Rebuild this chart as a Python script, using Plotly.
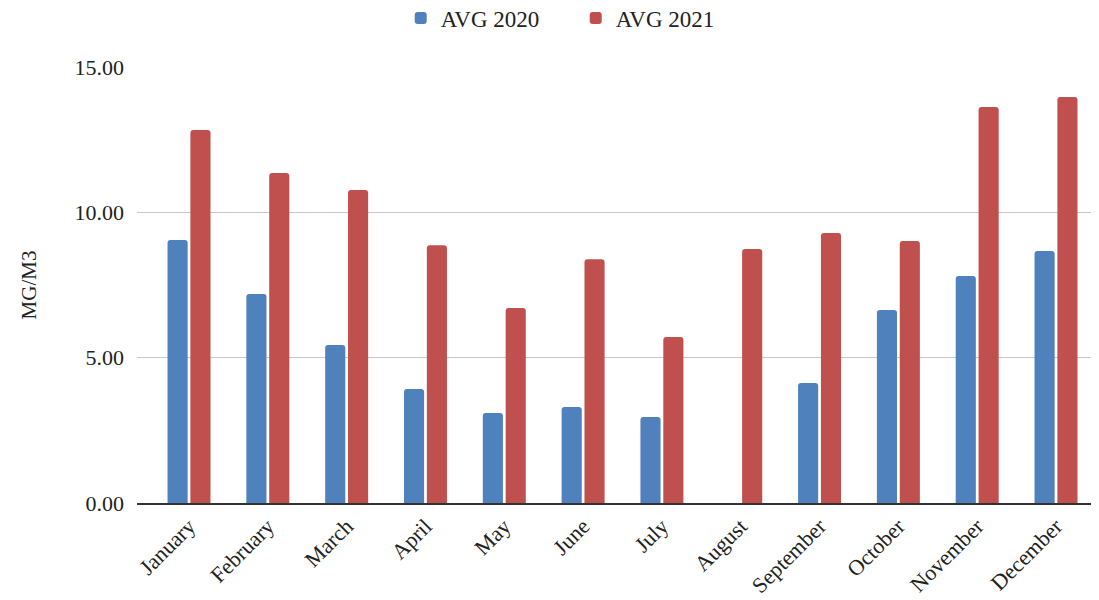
import plotly.graph_objects as go

months = ["January", "February", "March", "April", "May", "June",
          "July", "August", "September", "October", "November", "December"]
avg_2020 = [9.05, 7.19, 5.44, 3.92, 3.10, 3.30, 2.96, None, 4.13, 6.64, 7.81, 8.67]
avg_2021 = [12.83, 11.35, 10.77, 8.87, 6.71, 8.39, 5.71, 8.74, 9.29, 9.01, 13.62, 13.97]
y_ticks = [0, 5, 10, 15]
y_tick_labels = ["0.00", "5.00", "10.00", "15.00"]

FONT = "Liberation Serif, Times New Roman, serif"

fig = go.Figure()
fig.add_trace(go.Bar(x=list(range(len(months))), y=avg_2020, name="AVG 2020",
                     marker=dict(color="#4F81BD", line=dict(width=0))))
fig.add_trace(go.Bar(x=list(range(len(months))), y=avg_2021, name="AVG 2021",
                     marker=dict(color="#C0504D", line=dict(width=0))))

fig.update_layout(
    width=1099, height=600,
    margin=dict(l=129, r=10, t=59, b=105, autoexpand=False),
    paper_bgcolor="white", plot_bgcolor="white",
    font=dict(family=FONT, size=21, color="#222222"),
    barmode="group", bargap=0.42, bargroupgap=0.12,
    barcornerradius=3,
    showlegend=True,
    legend=dict(orientation="h", x=0.457, xanchor="center",
                y=1.112, yanchor="middle",
                font=dict(family=FONT, size=23, color="#222222"),
                itemwidth=30, entrywidth=130, traceorder="normal"),
    xaxis=dict(
        tickmode="array", tickvals=list(range(len(months))), ticktext=months,
        tickangle=-45, range=[-0.66, 11.52], automargin=False,
        showgrid=False, showline=True, linecolor="#333333", linewidth=1.5,
        ticks="", tickfont=dict(family=FONT, size=22, color="#222222"),
        zeroline=False,
    ),
    yaxis=dict(
        range=[0, 15.0], tickmode="array", tickvals=y_ticks, ticktext=y_tick_labels,
        showgrid=True, gridcolor="#c8c8c8", gridwidth=1.2, automargin=False,
        zeroline=False, showline=False, ticks="",
        ticklabelstandoff=12,
        tickfont=dict(family=FONT, size=22, color="#222222"),
        title=dict(text="MG/M3", font=dict(family=FONT, size=21, color="#222222"), standoff=32),
    ),
)

fig.write_html("out.html")
